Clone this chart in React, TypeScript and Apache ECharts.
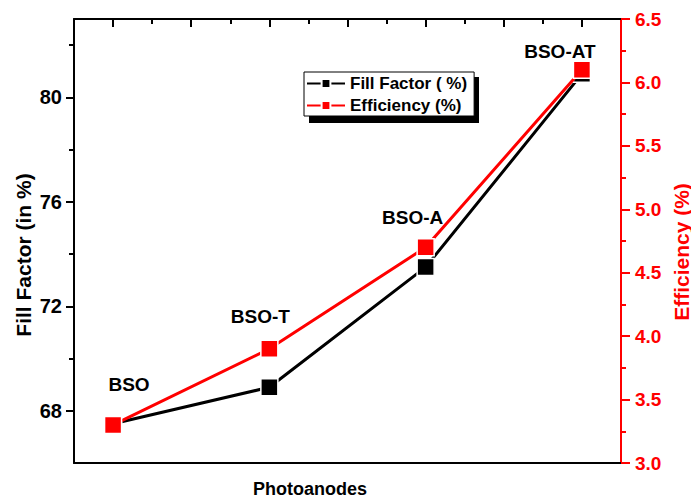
import React, { useEffect, useRef } from "react";
import * as echarts from "echarts";

const categories = ["BSO", "BSO-T", "BSO-A", "BSO-AT"];
const positions = [1, 2, 3, 4];
const fillFactor = [67.5, 68.9, 73.5, 80.9];
const efficiency = [3.3, 3.9, 4.7, 6.1];
const ffMajorTicks = [68, 72, 76, 80];
const ffMinorTicks = [70, 74, 78, 82];
const xMajorTicks = [1, 1.5, 2, 2.5, 3, 3.5, 4];
const xMinorTicks = [1.25, 1.75, 2.25, 2.75, 3.25, 3.75];

const FONT = 'Arial, "Liberation Sans", sans-serif';
const labelOffsets = [
  [16, -40],
  [-9, -32],
  [-13, -30],
  [-22, -18],
];

export default function App() {
  const ref = useRef<HTMLDivElement>(null);
  useEffect(() => {
    if (!ref.current) return;
    const chart = echarts.init(ref.current, null, { renderer: "svg" });
    const grid = { left: 74, right: 70, top: 19, bottom: 36, containLabel: false };
    const xBase = { type: "value", min: 0.75, max: 4.25, splitLine: { show: false }, axisLabel: { show: false } };
    const option: any = {
      animation: false,
      backgroundColor: "#fff",
      grid,
      xAxis: [
        {
          ...xBase,
          position: "bottom",
          axisLine: { show: true, lineStyle: { color: "#000", width: 2 } },
          axisTick: { show: false },
        },
        {
          ...xBase,
          position: "top",
          axisLine: { show: true, lineStyle: { color: "#000", width: 2 } },
          axisTick: { show: true, inside: true, length: 8, customValues: xMajorTicks, lineStyle: { color: "#000", width: 2 } },
        },
        {
          ...xBase,
          position: "top",
          axisLine: { show: false },
          axisTick: { show: true, inside: true, length: 5, customValues: xMinorTicks, lineStyle: { color: "#000", width: 2 } },
        },
      ],
      yAxis: [
        {
          type: "value",
          position: "left",
          min: 66,
          max: 83,
          splitLine: { show: false },
          axisLine: { show: true, lineStyle: { color: "#000", width: 2 } },
          axisTick: { show: true, length: 8, customValues: ffMajorTicks, lineStyle: { color: "#000", width: 2 } },
          axisLabel: { customValues: ffMajorTicks, margin: 12, color: "#000", fontSize: 20, fontWeight: "bold", fontFamily: FONT },
        },
        {
          type: "value",
          position: "left",
          min: 66,
          max: 83,
          splitLine: { show: false },
          axisLine: { show: false },
          axisTick: { show: true, length: 5, customValues: ffMinorTicks, lineStyle: { color: "#000", width: 2 } },
          axisLabel: { show: false },
        },
        {
          type: "value",
          position: "right",
          min: 3,
          max: 6.5,
          interval: 0.5,
          splitLine: { show: false },
          axisLine: { show: true, lineStyle: { color: "#ff0000", width: 2 } },
          axisTick: { show: true, length: 9, lineStyle: { color: "#ff0000", width: 2 } },
          minorTick: { show: true, splitNumber: 2, length: 5, lineStyle: { color: "#ff0000", width: 2 } },
          axisLabel: {
            margin: 14,
            color: "#ff0000",
            fontSize: 19,
            fontWeight: "bold",
            fontFamily: FONT,
            formatter: (v: number) => v.toFixed(1),
          },
        },
      ],
      legend: {
        orient: "vertical",
        left: 304,
        top: 72,
        padding: [3, 7, 2, 2],
        itemGap: 5,
        itemWidth: 38,
        itemHeight: 11,
        backgroundColor: "#fff",
        borderColor: "#000",
        borderWidth: 1,
        textStyle: { color: "#000", fontSize: 17, fontWeight: "bold", fontFamily: FONT },
        data: ["Fill Factor ( %)", "Efficiency (%)"],
        z: 10,
      },
      graphic: [
        {
          type: "rect",
          z: 5,
          shape: { x: 309, y: 77, width: 170, height: 46 },
          style: { fill: "#000" },
        },
        {
          type: "text",
          x: 23,
          y: 255,
          rotation: Math.PI / 2,
          style: {
            text: "Fill Factor (in %)",
            fill: "#000",
            font: `bold 21px ${FONT}`,
            align: "center",
            verticalAlign: "middle",
          },
        },
        {
          type: "text",
          x: 681,
          y: 252,
          rotation: Math.PI / 2,
          style: {
            text: "Efficiency (%)",
            fill: "#ff0000",
            font: `bold 21px ${FONT}`,
            align: "center",
            verticalAlign: "middle",
          },
        },
        {
          type: "text",
          x: 310,
          y: 489,
          style: {
            text: "Photoanodes",
            fill: "#000",
            font: `bold 18px ${FONT}`,
            align: "center",
            verticalAlign: "middle",
          },
        },
      ],
      series: [
        {
          name: "Fill Factor ( %)",
          type: "line",
          xAxisIndex: 0,
          yAxisIndex: 0,
          data: positions.map((p, i) => [p, fillFactor[i]]),
          symbol: "rect",
          symbolSize: 17,
          lineStyle: { color: "#000", width: 3 },
          itemStyle: { color: "#000", borderColor: "#fff", borderWidth: 1.5 },
          z: 2,
        },
        {
          name: "Efficiency (%)",
          type: "line",
          xAxisIndex: 0,
          yAxisIndex: 2,
          data: positions.map((p, i) => ({
            value: [p, efficiency[i]],
            label: {
              show: true,
              position: "inside",
              offset: labelOffsets[i],
              formatter: categories[i],
              color: "#000",
              fontSize: 19,
              fontWeight: "bold",
              fontFamily: FONT,
            },
          })),
          symbol: "rect",
          symbolSize: 17,
          lineStyle: { color: "#ff0000", width: 3 },
          itemStyle: { color: "#ff0000", borderColor: "#fff", borderWidth: 1.5 },
          z: 3,
        },
      ],
    };
    chart.setOption(option);
    return () => chart.dispose();
  }, []);
  return (
    <div
      ref={ref}
      style={{ position: "fixed", left: 0, top: 0, width: 691, height: 499 }}
    />
  );
}
